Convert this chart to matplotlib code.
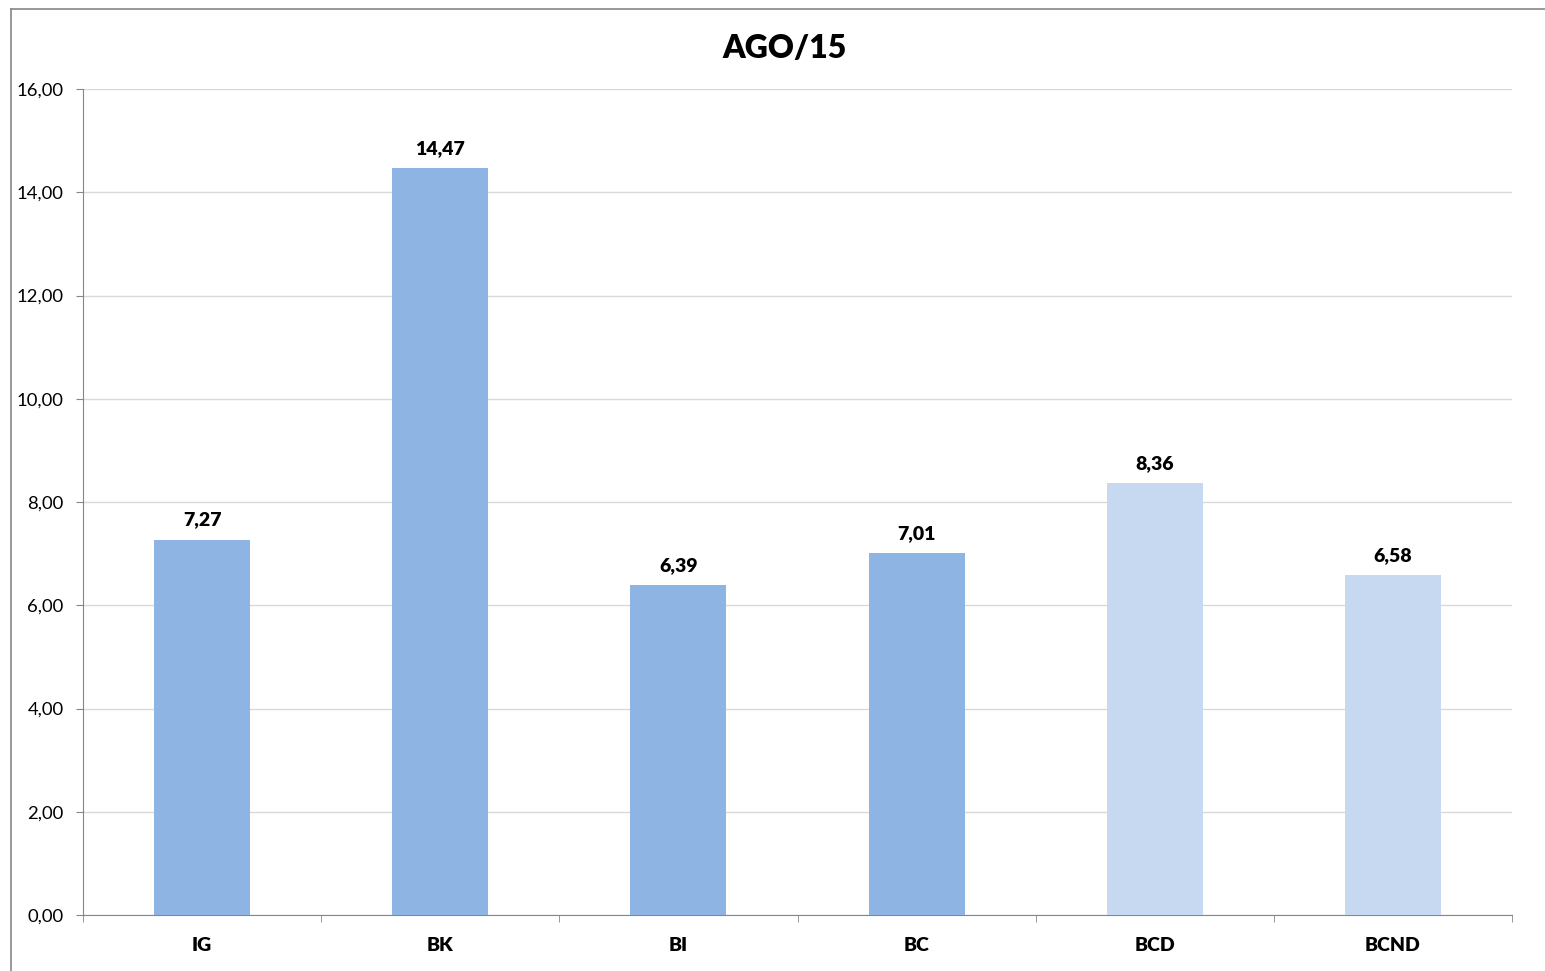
import matplotlib.pyplot as plt
from matplotlib.lines import Line2D
import numpy as np

categories = ['IG', 'BK', 'BI', 'BC', 'BCD', 'BCND']
values = [7.27, 14.47, 6.39, 7.01, 8.36, 6.58]
colors = ['#8EB4E3', '#8EB4E3', '#8EB4E3', '#8EB4E3', '#C6D9F1', '#C6D9F1']

plt.rcParams['font.family'] = ['Lato', 'DejaVu Sans']

fig = plt.figure(figsize=(15.45, 9.71), dpi=100)
ax = fig.add_axes([83/1545, 1 - 915/971, (1512 - 83)/1545, (915 - 89)/971])

x = np.arange(len(categories))
ax.bar(x, values, width=0.403, color=colors, zorder=3)

for xi, v in zip(x, values):
        ax.text(xi, v + 0.22, ('%.2f' % v).replace('.', ','), ha='center', va='bottom',
                fontsize=14, fontweight='heavy', color='black')

ax.set_xlim(-0.5, len(categories) - 0.5)
ax.set_ylim(0, 16)
ax.set_yticks(np.arange(0, 17, 2))
ax.set_yticklabels([('%.2f' % t).replace('.', ',') for t in np.arange(0, 17, 2)], fontsize=13.3)
ax.set_xticks(x)
ax.set_xticklabels(categories, fontsize=14, fontweight='heavy')
ax.set_xticks(np.arange(-0.5, len(categories), 1), minor=True)

ax.tick_params(axis='x', which='major', length=0, pad=16)
ax.tick_params(axis='x', which='minor', length=5, color='#868686', direction='out')
ax.tick_params(axis='y', length=5, color='#868686', pad=9)

ax.grid(axis='y', color='#D9D9D9', linewidth=1, zorder=0)
for s in ['top', 'right']:
        ax.spines[s].set_visible(False)
for s in ['left', 'bottom']:
        ax.spines[s].set_color('#868686')

fig.text(785/1545, 1 - 48/971, 'AGO/15', ha='center', va='center', fontsize=23, fontweight='heavy')

# outer frame (left and top only visible)
fig.add_artist(Line2D([10.5/1545, 10.5/1545], [0, 1 - 9.5/971], transform=fig.transFigure, color='#868686', linewidth=1.2))
fig.add_artist(Line2D([10.5/1545, 1], [1 - 9.5/971, 1 - 9.5/971], transform=fig.transFigure, color='#868686', linewidth=1.2))

fig.savefig('out.png', dpi=100)
